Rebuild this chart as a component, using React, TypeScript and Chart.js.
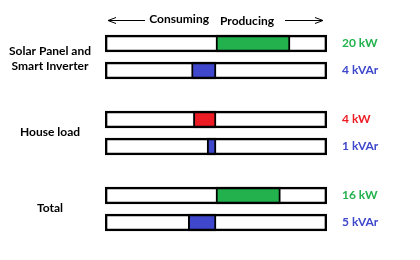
import { useEffect, useRef } from 'react';
import { Chart, registerables } from 'chart.js';

Chart.register(...registerables);

// ---- data ----
const groupLabels: string[][] = [['Solar Panel and', 'Smart Inverter'], ['House load'], ['Total']];
const rowNames = ['Solar kW', 'Solar kVAr', 'House kW', 'House kVAr', 'Total kW', 'Total kVAr'];
const barValues = [20, -6.6, -6.1, -2.4, 17.4, -7.5];
const valueLabels = ['20 kW', '4 kVAr', '4 kW', '1 kVAr', '16 kW', '5 kVAr'];
const barColors = ['#22B14C', '#3F48CC', '#ED1C24', '#3F48CC', '#22B14C', '#3F48CC'];
const directionLabels = ['Consuming', 'Producing'];
const axisMin = -30;
const axisMax = 30;

// ---- layout ----
const GROUP_PITCH = 76 / 27;
const rowY = (i: number) => Math.floor(i / 2) * GROUP_PITCH + (i % 2);
const FONT = 'bold 12px Lato, "Open Sans", sans-serif';

const overlay = {
  id: 'overlay',
  afterDraw(chart: any) {
    const ctx = chart.ctx as CanvasRenderingContext2D;
    const { left, right } = chart.chartArea;
    const xs = chart.scales.x;
    const ys = chart.scales.y;
    const cx = xs.getPixelForValue(0);
    ctx.save();
    ctx.font = FONT;
    ctx.textBaseline = 'middle';

    // group labels
    ctx.fillStyle = '#000';
    ctx.textAlign = 'center';
    groupLabels.forEach((lines, g) => {
      const shift = lines.length > 1 ? 1.5 : -1;
      const yc = (ys.getPixelForValue(rowY(g * 2)) + ys.getPixelForValue(rowY(g * 2 + 1))) / 2 + shift;
      const lh = 14.5;
      lines.forEach((t, k) => {
        ctx.fillText(t, 50, yc + (k - (lines.length - 1) / 2) * lh);
      });
    });

    // value labels
    ctx.textAlign = 'left';
    valueLabels.forEach((t, i) => {
      ctx.fillStyle = barColors[i];
      ctx.fillText(t, right + 15, ys.getPixelForValue(rowY(i)));
    });

    // header
    ctx.fillStyle = '#000';
    ctx.textAlign = 'right';
    ctx.fillText(directionLabels[0], cx - 7, 19);
    ctx.textAlign = 'left';
    ctx.fillText(directionLabels[1], cx + 4, 21);

    ctx.strokeStyle = '#000';
    ctx.lineWidth = 1;
    const ay1 = 20.5;
    ctx.beginPath();
    ctx.moveTo(left + 3, ay1);
    ctx.lineTo(145, ay1);
    ctx.moveTo(left + 11, ay1 - 3);
    ctx.lineTo(left + 3, ay1);
    ctx.lineTo(left + 11, ay1 + 3);
    const ay2 = 20.5;
    ctx.moveTo(285, ay2);
    ctx.lineTo(right - 4, ay2);
    ctx.moveTo(right - 12, ay2 - 3);
    ctx.lineTo(right - 4, ay2);
    ctx.lineTo(right - 12, ay2 + 3);
    ctx.stroke();
    ctx.restore();
  },
};

export default function App() {
  const ref = useRef<HTMLCanvasElement>(null);
  useEffect(() => {
    document.body.style.margin = '0';
    const chart = new Chart(ref.current!, {
      type: 'bar',
      data: {
        labels: rowNames,
        datasets: [
          {
            label: 'range',
            data: rowNames.map((_, i) => ({ x: [axisMin, axisMax], y: rowY(i) })) as any,
            backgroundColor: 'rgba(0,0,0,0)',
            borderColor: '#000',
            borderWidth: 2,
            borderSkipped: false,
            barThickness: 17,
            grouped: false,
            order: 0,
          },
          {
            label: 'value',
            data: barValues.map((v, i) => ({ x: [0, v], y: rowY(i) })) as any,
            backgroundColor: barColors,
            borderColor: '#000',
            borderWidth: 2,
            borderSkipped: false,
            barThickness: 17,
            grouped: false,
            order: 1,
          },
        ],
      },
      options: {
        indexAxis: 'y',
        responsive: false,
        animation: false,
        layout: { padding: { left: 105, right: 93, top: 16.5, bottom: 0.5 } },
        plugins: { legend: { display: false }, tooltip: { enabled: false } },
        scales: {
          x: { type: 'linear', display: false, min: axisMin, max: axisMax },
          y: { type: 'linear', display: false, min: -1, max: 8, reverse: true, offset: false },
        },
      },
      plugins: [overlay],
    });
    return () => chart.destroy();
  }, []);
  return <canvas ref={ref} width={420} height={260} style={{ display: 'block' }} />;
}
